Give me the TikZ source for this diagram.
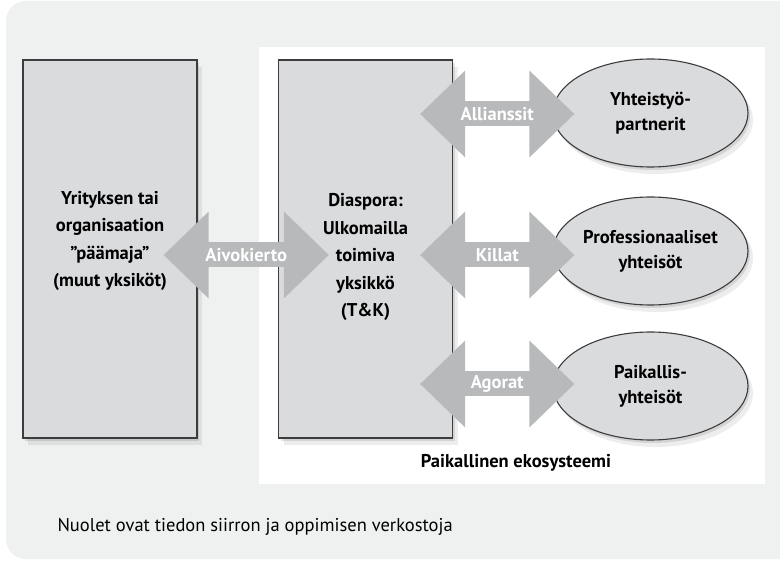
\documentclass[tikz,border=0pt]{standalone}
\usepackage{fontspec}
\setmainfont{PT Sans}
\usepackage{tikz}
\usetikzlibrary{arrows.meta, calc, shadows, shapes.geometric, positioning}
\definecolor{panelGray}{RGB}{239,240,240}
\definecolor{unitGray}{RGB}{218,219,221}
\definecolor{flowGray}{RGB}{184,185,187}
\definecolor{edgeGray}{RGB}{60,60,62}

\begin{document}
\begin{tikzpicture}[x=1pt, y=-1pt,
		soft shadow/.style={
			general shadow={fill=black, opacity=0.10, shadow xshift=2pt, shadow yshift=-3pt},
			general shadow={fill=black, opacity=0.07, shadow xshift=5pt, shadow yshift=-7pt}
		},
		unit/.style={draw=edgeGray, fill=unitGray, line width=1.1pt, minimum width=174pt, minimum height=378pt, soft shadow},
		community/.style={ellipse, draw=edgeGray, fill=unitGray, line width=1.1pt, minimum width=195pt, minimum height=108pt, inner sep=0pt, align=center, font=\bfseries\fontsize{18.5}{25}\selectfont, soft shadow},
		flow/.style={flowGray, line width=25pt, {Triangle[length=45pt,width=84pt]}-{Triangle[length=45pt,width=84pt]}},
		flowlabel/.style={text=white, font=\bfseries\fontsize{18.5}{20}\selectfont},
		unittext/.style={align=center, font=\bfseries\fontsize{18.5}{27.5}\selectfont}
	]

	\useasboundingbox (0,0) rectangle (780,561);
	\fill[panelGray, rounded corners=20pt] (6,1) rectangle (800,559);
	\fill[white] (259,47) rectangle (765,484);

	\node[unit] (hq) at (110,249) {};
	\node[unit] (diaspora) at (365.5,249) {};
	\node[unittext] (hqtext) at (110,241) {Yrityksen tai\\organisaation\\”päämaja”\\(muut yksiköt)};
	\node[unittext] (diasporatext) at (365.5,257) {Diaspora:\\Ulkomailla\\toimiva\\yksikkö\\(T\&K)};

	\node[community] (partners) at (650.5,113) {Yhteistyö-\\partnerit};
	\node[community] (professionals) at (650.5,251) {Professionaaliset\\yhteisöt};
	\node[community] (locals) at (650.5,386) {Paikallis-\\yhteisöt};

	\draw[flow] ($(hq.east)+(-34,6)$) -- ($(diaspora.west)+(51,6)$) node[midway, flowlabel] {Aivokierto};
	\draw[flow] ($(diaspora.east |- partners.west)+(-33,1)$) -- ($(partners.west)+(22,1)$) node[midway, flowlabel] {Allianssit};
	\draw[flow] ($(diaspora.east |- professionals.west)+(-33,4)$) -- ($(professionals.west)+(22,4)$) node[midway, flowlabel] {Killat};
	\draw[flow] ($(diaspora.east |- locals.west)+(-33,-2)$) -- ($(locals.west)+(22,-2)$) node[midway, flowlabel] {Agorat};

	\node[font=\bfseries\fontsize{18.5}{20}\selectfont] (ecosystem) at (516,463) {Paikallinen ekosysteemi};
	\node[anchor=west, font=\fontsize{18.5}{20}\selectfont] (caption) at (54,527) {Nuolet ovat tiedon siirron ja oppimisen verkostoja};

\end{tikzpicture}
\end{document}
